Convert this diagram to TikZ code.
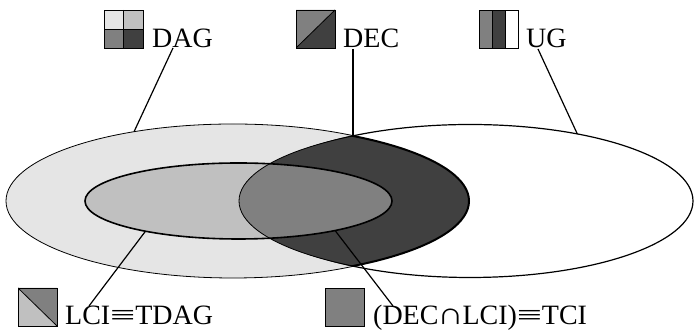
\documentclass[tikz,border=0pt]{standalone}
\usepackage{fontspec}
\usepackage{graphicx}
\setmainfont{Liberation Serif}
\usetikzlibrary{shapes.geometric}
\definecolor{tone1}{RGB}{229,229,229}
\definecolor{tone2}{RGB}{192,192,192}
\definecolor{tone3}{RGB}{128,128,128}
\definecolor{tone4}{RGB}{64,64,64}
% wide relation signs as set in the legend
\newcommand\wideequiv{\makebox[25pt]{\scalebox{1.6}[1]{≡}}}
\newcommand\widecap{\makebox[24pt]{\scalebox{1.3}[1.1]{∩}}}
\begin{document}
\begin{tikzpicture}[x=1pt,y=1pt,
  region/.style={ellipse, inner sep=0pt, outer sep=0pt},
  tag/.style={anchor=base west, inner sep=0pt, font=\fontsize{28}{30}\selectfont},
  icon/.style={draw=black, line width=0.8pt, minimum width=39pt, minimum height=38pt,
               inner sep=0pt, outer sep=0pt, anchor=south west},
  link/.style={line width=1.2pt}]
\useasboundingbox (0,0) rectangle (694,336);

% the two large classes
\node[region, draw, line width=0.8pt, fill=tone1, minimum width=454pt, minimum height=154pt] (dag) at (233,135) {};
\node[region, draw, line width=1.2pt, fill=white, minimum width=446pt, minimum height=153pt] (ug) at (470,135) {};

% decomposable models: the lens shared by both classes
\begin{scope}
  \clip (485,135) ellipse [x radius=246pt, y radius=77pt];
  \fill[tone4] (219,135) ellipse [x radius=250pt, y radius=77pt];
\end{scope}

% LCI models inside the DAG class
\node[region, fill=tone2, minimum width=307pt, minimum height=76pt] (lci) at (238.5,135) {};
\begin{scope}
  \clip (485,135) ellipse [x radius=246pt, y radius=77pt];
  \clip (219,135) ellipse [x radius=250pt, y radius=77pt];
  \fill[tone3] (lci.center) ellipse [x radius=153.5pt, y radius=38pt];
\end{scope}

% lens outline: thin on the left, heavy on the right
\begin{scope}
  \clip (219,135) ellipse [x radius=250pt, y radius=77pt];
  \draw[line width=0.8pt] (485,135) ellipse [x radius=246pt, y radius=77pt];
\end{scope}
\begin{scope}
  \clip (485,135) ellipse [x radius=246pt, y radius=77pt];
  \draw[line width=2pt] (219,135) ellipse [x radius=250pt, y radius=77pt];
\end{scope}
\draw[line width=1.6pt] (lci.center) ellipse [x radius=153.5pt, y radius=38pt];
\coordinate (dectip) at (353,200);

% legend labels
\node[tag] (dagtxt) at (152,288) {DAG};
\node[tag] (dectxt) at (343,288) {DEC};
\node[tag] (ugtxt) at (526,288) {UG};
\node[tag] (lcitxt) at (65,11) {LCI\wideequiv TDAG};
\node[tag] (tcitxt) at (373,11) {(DEC\widecap LCI)\wideequiv TCI};

% legend swatches
\node[icon, path picture={
  \fill[tone1] (path picture bounding box.north west) rectangle (path picture bounding box.center);
  \fill[tone2] (path picture bounding box.north) rectangle (path picture bounding box.east);
  \fill[tone3] (path picture bounding box.west) rectangle (path picture bounding box.south);
  \fill[tone4] (path picture bounding box.center) rectangle (path picture bounding box.south east);
  \draw[line width=0.6pt] (path picture bounding box.north) -- (path picture bounding box.south)
        (path picture bounding box.west) -- (path picture bounding box.east);
}] (dagicon) at (104,288) {};

\node[icon, path picture={
  \fill[tone3] (path picture bounding box.north west) -- (path picture bounding box.north east)
        -- (path picture bounding box.south west) -- cycle;
  \fill[tone4] (path picture bounding box.south west) -- (path picture bounding box.north east)
        -- (path picture bounding box.south east) -- cycle;
  \draw[line width=0.8pt] (path picture bounding box.south west) -- (path picture bounding box.north east);
}] (decicon) at (296,288) {};

\node[icon, path picture={
  \fill[tone3] (path picture bounding box.south west) rectangle ([xshift=13pt]path picture bounding box.north west);
  \fill[tone4] ([xshift=13pt]path picture bounding box.south west) rectangle ([xshift=26pt]path picture bounding box.north west);
  \draw[line width=0.6pt] ([xshift=13pt]path picture bounding box.south west) -- ([xshift=13pt]path picture bounding box.north west)
        ([xshift=26pt]path picture bounding box.south west) -- ([xshift=26pt]path picture bounding box.north west);
}] (ugicon) at (479,288) {};

\node[icon, path picture={
  \fill[tone3] (path picture bounding box.north west) -- (path picture bounding box.north east)
        -- (path picture bounding box.south east) -- cycle;
  \fill[tone2] (path picture bounding box.north west) -- (path picture bounding box.south west)
        -- (path picture bounding box.south east) -- cycle;
  \draw[line width=0.8pt] (path picture bounding box.north west) -- (path picture bounding box.south east);
}] (lciicon) at (18,10) {};

\node[icon, fill=tone3] (tciicon) at (325,10) {};

% connectors from labels to their regions
\draw[link] ([shift={(21,0)}]dagtxt.base west) -- (dag.145.4);
\draw[link] ([shift={(10,-1)}]dectxt.base west) -- (dectip);
\draw[link] ([shift={(12,-1)}]ugtxt.base west) -- (ug.32.4);
\draw[link] ([shift={(24,19)}]lcitxt.base west) -- (lci.-162.2);
\draw[link] ([shift={(20,19)}]tcitxt.base west) -- (lci.-17.8);
\end{tikzpicture}
\end{document}
